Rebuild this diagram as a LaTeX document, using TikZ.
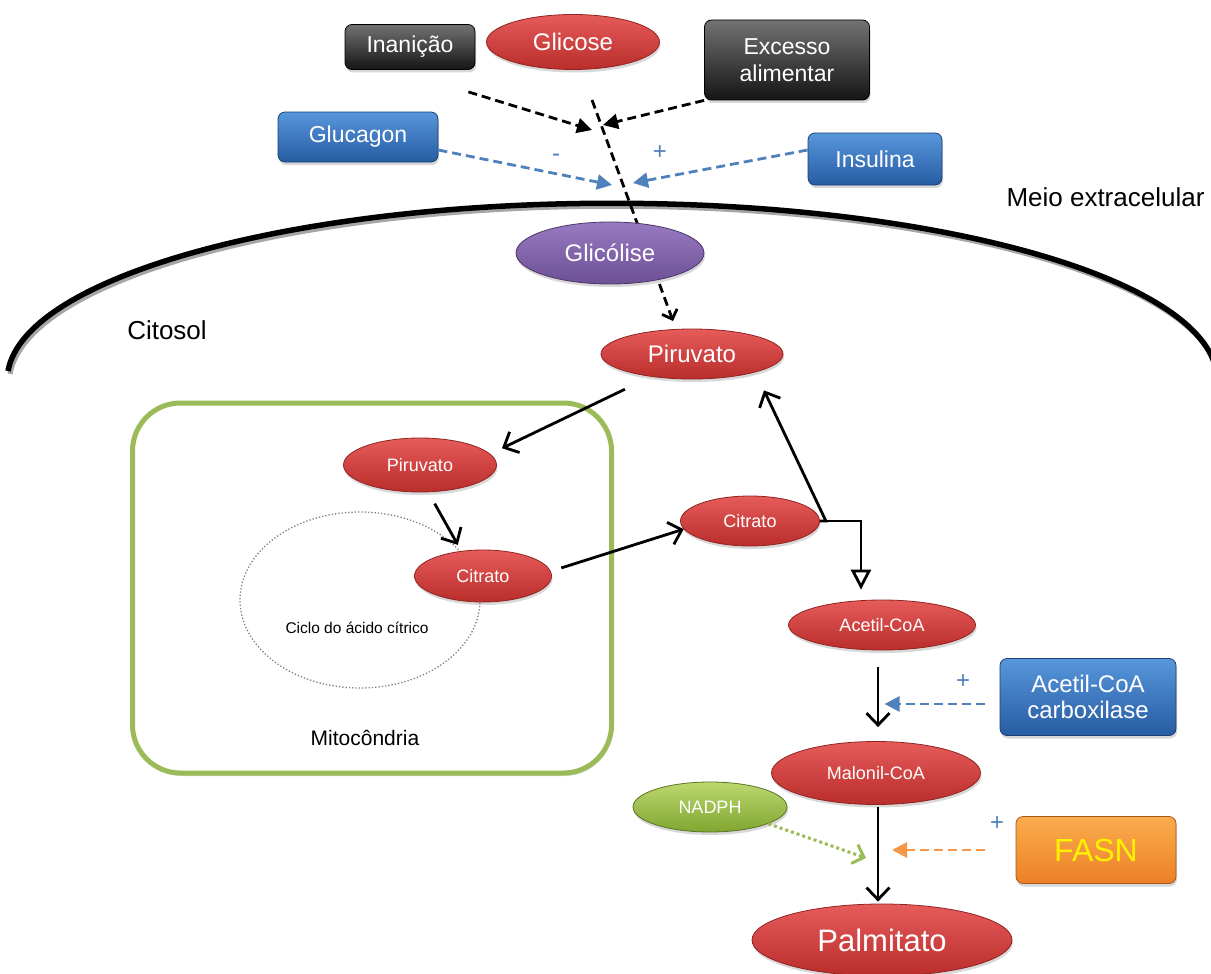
\documentclass[tikz,border=0pt]{standalone}
\usepackage{fontspec}
\setmainfont{Liberation Sans}
\usetikzlibrary{positioning, arrows.meta, shapes.geometric, shadows}
\definecolor{molred}{RGB}{185,45,43}
\definecolor{molredlt}{RGB}{230,92,90}
\definecolor{molredbd}{RGB}{145,35,33}
\definecolor{glyviolet}{RGB}{108,80,148}
\definecolor{glyvioletlt}{RGB}{152,122,194}
\definecolor{regblue}{RGB}{38,92,162}
\definecolor{regbluelt}{RGB}{88,150,220}
\definecolor{arrblue}{RGB}{79,129,189}
\definecolor{mitogreen}{RGB}{155,187,89}
\definecolor{nadgreen}{RGB}{128,166,48}
\definecolor{nadgreenlt}{RGB}{188,216,112}
\definecolor{fasnorange}{RGB}{236,128,40}
\definecolor{fasnorangelt}{RGB}{250,172,78}
\definecolor{arrorange}{RGB}{247,150,70}

\begin{document}
\begin{tikzpicture}[x=1pt, y=-1pt,
  lift/.style={drop shadow={opacity=.3, shadow xshift=1pt, shadow yshift=-3pt}},
  mol/.style={ellipse, lift, draw=molredbd, line width=.8pt, top color=molredlt,
              bottom color=molred, text=white, inner sep=0pt},
  molbig/.style={mol, font=\fontsize{24}{27}\selectfont},
  molsmall/.style={mol, font=\fontsize{18}{21}\selectfont},
  regbox/.style={rectangle, rounded corners=7pt, lift, draw=regblue!70!black, line width=.8pt,
                 top color=regbluelt, bottom color=regblue, text=white, align=center,
                 inner sep=0pt, font=\fontsize{23}{27}\selectfont},
  darkbox/.style={regbox, draw=black, top color=black!55, bottom color=black!92},
  lbl/.style={font=\fontsize{26}{30}\selectfont},
  signlbl/.style={text=arrblue, font=\fontsize{24}{24}\selectfont},
  barb/.style={-{Straight Barb[length=12pt, width=23pt]}, line width=2.8pt},
  fluxarr/.style={-{Straight Barb[length=8pt, width=16pt]}, line width=2.8pt, dash pattern=on 9pt off 5pt},
  blkdash/.style={-{Triangle[length=15pt, width=15pt]}, line width=2.8pt, dash pattern=on 9pt off 5pt},
  bluearr/.style={blkdash, arrblue},
  fasnarr/.style={blkdash, arrorange},
  opentri/.style={-{Triangle[length=20pt, width=20pt, fill=white]}, line width=2.8pt},
  nadarr/.style={-{Straight Barb[length=10pt, width=20pt]}, mitogreen, line width=3pt, dash pattern=on 3pt off 3pt}
]
\fill[white] (0,0) rectangle (1211,974);
\useasboundingbox (0,0) rectangle (1211,974);
\draw[black!35, line width=5pt] (10,374) arc[start angle=183, end angle=356, x radius=605, y radius=177];
\draw[line width=5.5pt] (8,371) arc[start angle=183, end angle=356, x radius=605, y radius=177];
\node[lbl, anchor=east] (extra) at (1208,197) {Meio extracelular};
\node[lbl] (cyto) at (167,330) {Citosol};
\coordinate (fluxtop) at (592,100);
\coordinate (fluxend) at (673,321);
\draw[fluxarr] (fluxtop) -- (fluxend);
\node[darkbox, minimum width=130pt, minimum height=45pt] (inan) at (410,47) {Inanição};
\node[molbig, minimum width=173pt, minimum height=55pt] (glc) at (573,42) {Glicose};
\node[darkbox, minimum width=165pt, minimum height=80pt] (exc) at (787,60) {Excesso\\alimentar};
\node[regbox, minimum width=160pt, minimum height=50pt] (gluc) at (358,137) {Glucagon};
\node[regbox, minimum width=134pt, minimum height=52pt] (ins) at (875,159) {Insulina};
\node[molbig, top color=glyvioletlt, bottom color=glyviolet, draw=glyviolet!70!black,
      minimum width=188pt, minimum height=62pt] (gly) at (610,253) {Glicólise};
\node[molbig, minimum width=182pt, minimum height=50pt] (pir1) at (692,354) {Piruvato};
\node[draw=mitogreen, line width=5pt, fill=white, rounded corners=48pt, lift,
      minimum width=479pt, minimum height=370pt] (mito) at (372,588) {};
\node[ellipse, draw=gray, dotted, line width=1.3pt, minimum width=240pt, minimum height=176pt] (krebs) at (360,600) {};
\node[font=\fontsize{15.5}{18}\selectfont] (krebslbl) at (357,628) {Ciclo do ácido cítrico};
\node[font=\fontsize{21}{24}\selectfont] (mitolbl) at (365,738) {Mitocôndria};
\node[molsmall, minimum width=153pt, minimum height=54pt] (pir2) at (420,465) {Piruvato};
\node[molsmall, minimum width=137pt, minimum height=52pt] (cit1) at (483,576) {Citrato};
\node[molsmall, minimum width=139pt, minimum height=50pt] (cit2) at (750,521) {Citrato};
\node[molsmall, minimum width=187pt, minimum height=50pt] (acc) at (882,625) {Acetil-CoA};
\node[molsmall, minimum width=209pt, minimum height=63pt] (mal) at (876,773) {Malonil-CoA};
\node[mol, font=\fontsize{31}{34}\selectfont, minimum width=260pt, minimum height=72pt] (palm) at (882,940) {Palmitato};
\node[molsmall, top color=nadgreenlt, bottom color=nadgreen, draw=nadgreen!70!black,
      minimum width=154pt, minimum height=50pt] (nadph) at (710,807) {NADPH};
\node[regbox, font=\fontsize{24}{26}\selectfont, minimum width=176pt, minimum height=77pt] (accb) at (1088,697) {Acetil-CoA\\carboxilase};
\node[regbox, top color=fasnorangelt, bottom color=fasnorange, draw=fasnorange!70!black, text=yellow,
      font=\fontsize{32}{34}\selectfont, minimum width=160pt, minimum height=67pt] (fasn) at (1096,850) {FASN};
\node[signlbl] (minus) at (556,158) {-};
\node[signlbl] (plusins) at (660,153) {+};
\node[signlbl] (plusaccb) at (963,682) {+};
\node[signlbl] (plusfasn) at (997,824) {+};
\coordinate (tipinan) at (592,130);
\coordinate (tipexc) at (603,125);
\coordinate (tipgluc) at (612,185);
\coordinate (tipins) at (633,183);
\coordinate (axis) at (878,0);
\coordinate (nadtip) at (866,858);
\draw[blkdash] ([xshift=-7pt, yshift=-22pt]inan.south east) -- (tipinan);
\draw[blkdash] (exc.south west) -- (tipexc);
\draw[bluearr] ([yshift=-13pt]gluc.east) -- (tipgluc);
\draw[bluearr] ([yshift=9pt]ins.west) -- (tipins);
\draw[barb, shorten <=29pt, shorten >=13pt] (pir1.209) -- (pir2.9);
\draw[barb, shorten <=13pt, shorten >=7pt] (pir2.287) -- (cit1.131);
\draw[barb, shorten <=11pt] (cit1.4) -- (cit2.187);
\draw[barb] (cit2.east) -- ++(6,0) coordinate (split) -- ([shift={(72,11)}]pir1.south);
\draw[opentri, shorten >=10pt] (split) -| ([xshift=-21pt]acc.north);
\draw[barb, shorten <=17pt, shorten >=14pt] (acc.south -| axis) -- (mal.north -| axis);
\draw[barb, shorten <=2pt, shorten >=2pt] (mal.south -| axis) -- (palm.north -| axis);
\draw[bluearr, shorten <=15pt] ([yshift=-7pt]accb.west) -- ++(-115,0);
\draw[fasnarr, shorten <=31pt, shorten >=14pt] (fasn.west) -- (fasn.west -| axis);
\draw[nadarr] (nadph.344) -- (nadtip);
\end{tikzpicture}
\end{document}
